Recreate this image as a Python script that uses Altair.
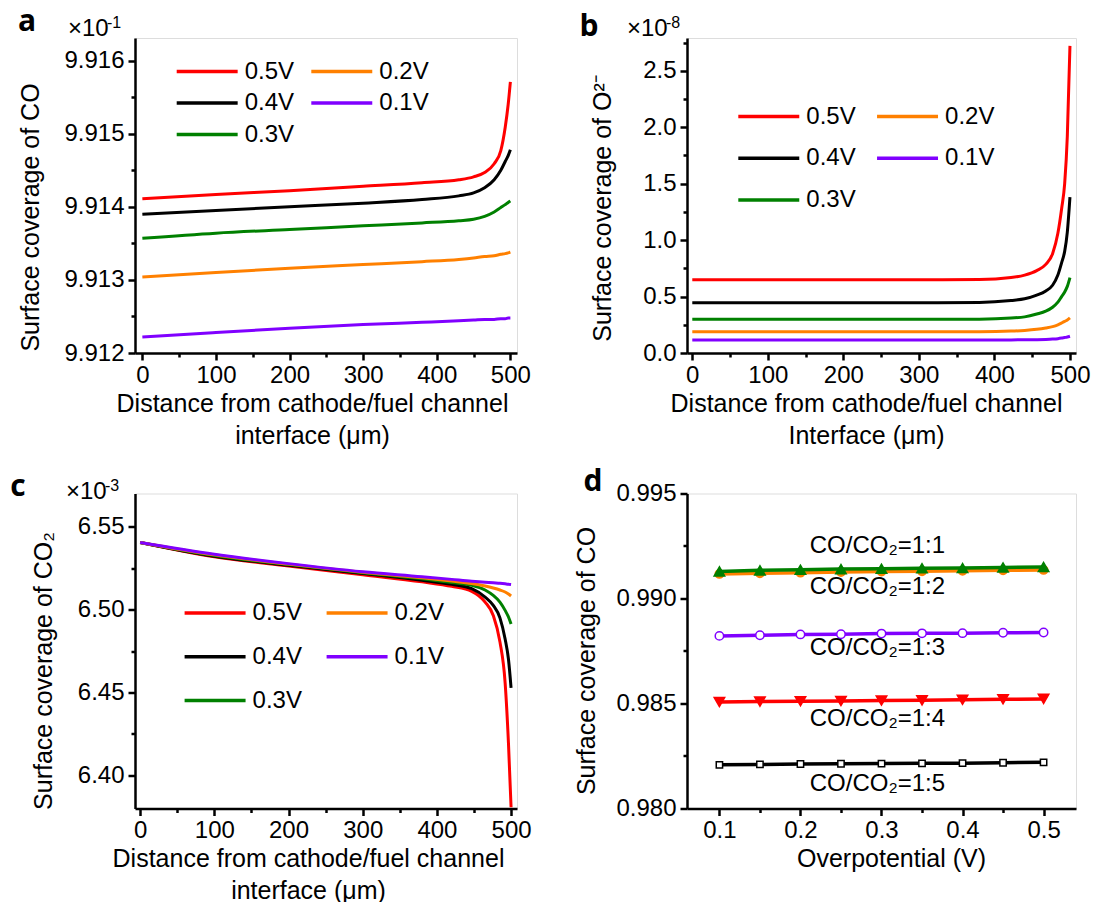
import json
import altair as alt
import pandas as pd

FONT = "Liberation Sans"
LETTER_FONT = "Open Sans"

# Legend order: filled column by column (0.5V, 0.4V, 0.3V | 0.2V, 0.1V)
VOLTS = ["0.5V", "0.4V", "0.3V", "0.2V", "0.1V"]
VOLT_COLORS = ["#FF0000", "#000000", "#008000", "#FF8000", "#8000FF"]

# ---------------- panel a: surface coverage of CO (x10^-1) ----------------
a_x = [0, 100, 200, 300, 380, 430, 450, 465, 478, 487, 493, 497, 500]
a_05 = [9.91411, 9.91417, 9.91422, 9.91428, 9.91433, 9.91437, 9.91441, 9.91447, 9.91459, 9.91477, 9.91509, 9.91540, 9.91571]
a_04 = [9.91390, 9.91395, 9.91400, 9.91405, 9.91410, 9.91415, 9.91419, 9.91426, 9.91437, 9.91450, 9.91462, 9.91470, 9.91478]
a_03 = [9.91357, 9.91364, 9.91369, 9.91374, 9.91378, 9.91381, 9.91383, 9.91387, 9.91393, 9.91399, 9.91403, 9.91406, 9.91408]
a_02 = [9.91304, 9.91310, 9.91316, 9.91321, 9.91325, 9.91328, 9.91330, 9.91332, 9.91333, 9.91335, 9.91336, 9.91337, 9.91338]
a_01 = [9.91222, 9.91228, 9.91234, 9.91239, 9.91242, 9.91244, 9.91245, 9.91246, 9.91246, 9.91247, 9.91247, 9.91248, 9.91248]

# ---------------- panel b: surface coverage of O2- (x10^-8) ----------------
b_x = [0, 100, 200, 300, 380, 422, 440, 456, 468, 477, 484, 489, 493, 496.5, 500]
b_05 = [0.648, 0.648, 0.648, 0.648, 0.650, 0.668, 0.690, 0.730, 0.785, 0.880, 1.060, 1.280, 1.500, 1.920, 2.720]
b_04 = [0.445, 0.445, 0.445, 0.445, 0.448, 0.465, 0.480, 0.512, 0.550, 0.600, 0.690, 0.800, 0.900, 1.070, 1.380]
b_03 = [0.298, 0.298, 0.298, 0.298, 0.300, 0.310, 0.320, 0.345, 0.370, 0.405, 0.450, 0.500, 0.540, 0.590, 0.668]
b_02 = [0.188, 0.188, 0.188, 0.188, 0.189, 0.194, 0.200, 0.210, 0.222, 0.234, 0.250, 0.266, 0.280, 0.293, 0.312]
b_01 = [0.115, 0.115, 0.115, 0.115, 0.115, 0.116, 0.117, 0.118, 0.120, 0.123, 0.127, 0.132, 0.137, 0.141, 0.148]

# ---------------- panel c: surface coverage of CO2 (x10^-3) ----------------
c_x = [0, 100, 200, 300, 380, 420, 447, 465, 476, 485, 492, 496.5, 500]
c_05 = [6.5405, 6.5319, 6.5263, 6.5210, 6.5167, 6.5140, 6.5110, 6.5045, 6.4964, 6.4805, 6.4558, 6.4193, 6.3808]
c_04 = [6.5405, 6.5322, 6.5267, 6.5218, 6.5177, 6.5152, 6.5126, 6.5075, 6.5025, 6.4950, 6.4822, 6.4700, 6.4528]
c_03 = [6.5405, 6.5326, 6.5271, 6.5222, 6.5185, 6.5163, 6.5147, 6.5118, 6.5085, 6.5045, 6.4995, 6.4955, 6.4913]
c_02 = [6.5405, 6.5330, 6.5274, 6.5225, 6.5192, 6.5172, 6.5157, 6.5142, 6.5130, 6.5118, 6.5106, 6.5094, 6.5082]
c_01 = [6.5405, 6.5334, 6.5277, 6.5228, 6.5198, 6.5182, 6.5171, 6.5165, 6.5161, 6.5158, 6.5155, 6.5153, 6.5151]

# ---------------- panel d: CO coverage vs overpotential ----------------
d_x = [0.10, 0.15, 0.20, 0.25, 0.30, 0.35, 0.40, 0.45, 0.50]
d_11 = [0.99129, 0.99134, 0.99137, 0.99140, 0.99142, 0.99144, 0.99145, 0.99148, 0.99150]
d_12 = [0.99117, 0.99120, 0.99123, 0.99126, 0.99128, 0.99130, 0.99132, 0.99134, 0.99136]
d_13 = [0.98822, 0.98825, 0.98829, 0.98830, 0.98833, 0.98834, 0.98835, 0.98837, 0.98838]
d_14 = [0.98507, 0.98509, 0.98511, 0.98512, 0.98514, 0.98515, 0.98518, 0.98520, 0.98522]
d_15 = [0.98208, 0.98210, 0.98212, 0.98213, 0.98214, 0.98215, 0.98216, 0.98218, 0.98220]
d_ratios = ["1:5", "1:4", "1:3", "1:2", "1:1"]            # drawing order, bottom to top
d_colors = ["#000000", "#FF0000", "#8000FF", "#FF8000", "#008000"]
d_fills = ["#FFFFFF", "#FF0000", "#FFFFFF", "#FF8000", "#008000"]
d_shapes = ["square", "triangle-down", "circle", "circle", "triangle-up"]
d_sizes = [40, 110, 70, 70, 110]
d_labels = ["CO/CO₂=1:1", "CO/CO₂=1:2", "CO/CO₂=1:3", "CO/CO₂=1:4", "CO/CO₂=1:5"]
d_label_x = [0.295, 0.295, 0.295, 0.295, 0.295]
d_label_y = [0.99251, 0.99055, 0.98763, 0.98425, 0.98118]

# axis multipliers drawn above panels a-c
multiplier_exponents = ["-1", "-8", "-3"]

# panel geometry
W_LEFT, W_RIGHT, H = 382, 389, 315

# legend swatch: a horizontal dash drawn to the right of the symbol anchor
SWATCH_PATH = "M0,0H6"
SWATCH_SIZE = 413


def long_frame(xs, series):
    rows = []
    for name, ys in series.items():
        for x, y in zip(xs, ys):
            rows.append({"x": x, "y": y, "V": name})
    return pd.DataFrame(rows)


def make_axis(major, minor, fmt, title, label_pad, title_pad, **kw):
    test = f"indexof({json.dumps(major)}, datum.value) >= 0"
    return alt.Axis(
        values=sorted(major + minor), format=fmt, title=title,
        labelExpr=f"{test} ? datum.label : ''",
        tickDash={"condition": {"test": test, "value": [9, 1]}, "value": [4, 12]},
        tickSize=7, tickWidth=2.5, tickColor="black",
        domainColor="black", domainWidth=2.5,
        labelFont=FONT, labelFontSize=24, labelColor="black", labelPadding=label_pad,
        labelOverlap=False, labelFlush=False,
        titleFont=FONT, titleFontSize=25, titleFontWeight="normal", titleColor="black",
        titlePadding=title_pad, titleLineHeight=32, grid=False, **kw)


def text_layer(text, x, y, size, weight="normal", font=FONT, align="left"):
    return alt.Chart(pd.DataFrame({"t": [text]})).mark_text(
        font=font, fontSize=size, fontWeight=weight, align=align,
        baseline="alphabetic", color="black").encode(
        text="t:N", x=alt.value(x), y=alt.value(y))


def multiplier(exponent, x, y):
    """'x10' with its exponent raised, anchored at the top-left of the y axis."""
    return [text_layer("×10", x, y, 24), text_layer(exponent, x + 39, y - 8, 16)]


def curve_panel(df, draw_order, xdom, ydom, xaxis, yaxis, width, legend_xy, row_pad, col_pad, extras):
    color = alt.Color("V:N", scale=alt.Scale(domain=VOLTS, range=VOLT_COLORS),
                      legend=alt.Legend(
                          title=None, orient="none", legendX=legend_xy[0], legendY=legend_xy[1],
                          columns=2, direction="vertical", symbolType=SWATCH_PATH,
                          symbolSize=SWATCH_SIZE, symbolStrokeWidth=3.5, labelFont=FONT,
                          labelFontSize=24, labelColor="black", labelOffset=56,
                          rowPadding=row_pad, columnPadding=col_pad, padding=0))
    layers = []
    for v in draw_order:
        layers.append(
            alt.Chart(df).transform_filter(alt.datum.V == v)
            .mark_line(strokeWidth=3, interpolate="monotone", clip=True)
            .encode(x=alt.X("x:Q", scale=alt.Scale(domain=xdom, nice=False, zero=False), axis=xaxis),
                    y=alt.Y("y:Q", scale=alt.Scale(domain=ydom, nice=False, zero=False), axis=yaxis),
                    color=color))
    return alt.layer(*layers, *extras).properties(width=width, height=H)


x_major = [0, 100, 200, 300, 400, 500]
x_minor = [50, 150, 250, 350, 450]
title_two_line = ["Distance from cathode/fuel channel", "interface (μm)"]

# ---- a ----
df_a = long_frame(a_x, {"0.5V": a_05, "0.4V": a_04, "0.3V": a_03, "0.2V": a_02, "0.1V": a_01})
panel_a = curve_panel(
    df_a, ["0.1V", "0.2V", "0.3V", "0.4V", "0.5V"], [-10, 509], [9.912, 9.91631],
    make_axis(x_major, x_minor, "d", title_two_line, 3, 4, titleX=177),
    make_axis([9.912, 9.913, 9.914, 9.915, 9.916], [9.9125, 9.9135, 9.9145, 9.9155], ".3f",
              "Surface coverage of CO", 4, 20, titleY=179),
    W_LEFT, (29.7, 21.5), 7.5, 4.6,
    [text_layer("a", -108, -7, 30, "bold", LETTER_FONT, "center"),
     *multiplier(multiplier_exponents[0], -67, -2)])

# ---- b ----
df_b = long_frame(b_x, {"0.5V": b_05, "0.4V": b_04, "0.3V": b_03, "0.2V": b_02, "0.1V": b_01})
panel_b = curve_panel(
    df_b, ["0.1V", "0.2V", "0.3V", "0.4V", "0.5V"], [-7, 508], [0, 2.79],
    make_axis(x_major, x_minor, "d", ["Distance from cathode/fuel channel", "Interface (μm)"], 3, 4, titleX=179),
    make_axis([0.0, 0.5, 1.0, 1.5, 2.0, 2.5], [0.25, 0.75, 1.25, 1.75, 2.25, 2.75], ".1f",
              "Surface coverage of O²⁻", 4, 27, titleY=170),
    W_RIGHT, (39.3, 66.5), 17.75, 8.75,
    [text_layer("b", -98, -2, 30, "bold", LETTER_FONT, "center"),
     *multiplier(multiplier_exponents[1], -60, -2)])

# ---- c ----
df_c = long_frame(c_x, {"0.5V": c_05, "0.4V": c_04, "0.3V": c_03, "0.2V": c_02, "0.1V": c_01})
panel_c = curve_panel(
    df_c, ["0.5V", "0.4V", "0.3V", "0.2V", "0.1V"], [-7, 508], [6.38, 6.57],
    make_axis(x_major, x_minor, "d", title_two_line, 3, 4, titleX=173),
    make_axis([6.40, 6.45, 6.50, 6.55], [6.425, 6.475, 6.525], ".2f",
              "Surface coverage of CO₂", 4, 21, titleY=177),
    W_LEFT, (37.6, 107.5), 19.75, 12,
    [text_layer("c", -117, 2, 30, "bold", LETTER_FONT, "center"),
     *multiplier(multiplier_exponents[2], -69, 5)])

# ---- d ----
d_series = {"1:1": d_11, "1:2": d_12, "1:3": d_13, "1:4": d_14, "1:5": d_15}
df_d = long_frame(d_x, d_series)
d_xscale = alt.Scale(domain=[0.06, 0.54], nice=False, zero=False)
d_yscale = alt.Scale(domain=[0.980, 0.995], nice=False, zero=False)
d_xaxis = make_axis([0.1, 0.2, 0.3, 0.4, 0.5], [0.15, 0.25, 0.35, 0.45], ".1f",
                    "Overpotential (V)", 3, 4, titleX=204)
d_yaxis = make_axis([0.980, 0.985, 0.990, 0.995], [0.9825, 0.9875, 0.9925], ".3f",
                    "Surface coverage of CO", 4, 16, titleY=167)
d_layers = []
for ratio, col, fill, shape, size in zip(d_ratios, d_colors, d_fills, d_shapes, d_sizes):
    base = alt.Chart(df_d).transform_filter(alt.datum.V == ratio)
    d_layers.append(base.mark_line(strokeWidth=3.5, color=col).encode(
        x=alt.X("x:Q", scale=d_xscale, axis=d_xaxis),
        y=alt.Y("y:Q", scale=d_yscale, axis=d_yaxis)))
    d_layers.append(base.mark_point(shape=shape, size=size, filled=True, fill=fill,
                                    stroke=col, strokeWidth=1.5, opacity=1).encode(
        x=alt.X("x:Q", scale=d_xscale), y=alt.Y("y:Q", scale=d_yscale)))
df_dlab = pd.DataFrame({"x": d_label_x, "y": d_label_y, "t": d_labels})
d_layers.append(alt.Chart(df_dlab).mark_text(font=FONT, fontSize=24, color="black",
                                             align="center", baseline="middle").encode(
    x=alt.X("x:Q", scale=d_xscale), y=alt.Y("y:Q", scale=d_yscale), text="t:N"))
d_layers.append(text_layer("d", -94, -3, 30, "bold", LETTER_FONT, "center"))
panel_d = alt.layer(*d_layers).properties(width=W_RIGHT, height=H)

chart = alt.concat(panel_a, panel_b, panel_c, panel_d, columns=2,
                   spacing={"row": 140.5, "column": 170}, bounds="flush").resolve_scale(
    color="independent").resolve_legend(color="independent").properties(
    padding={"left": 9, "top": 6, "right": 5, "bottom": 5},
    background="white",
).configure_view(stroke="black", strokeWidth=2.5).configure(font=FONT)

chart.save("out.html", embed_options={"renderer": "svg", "actions": False})
